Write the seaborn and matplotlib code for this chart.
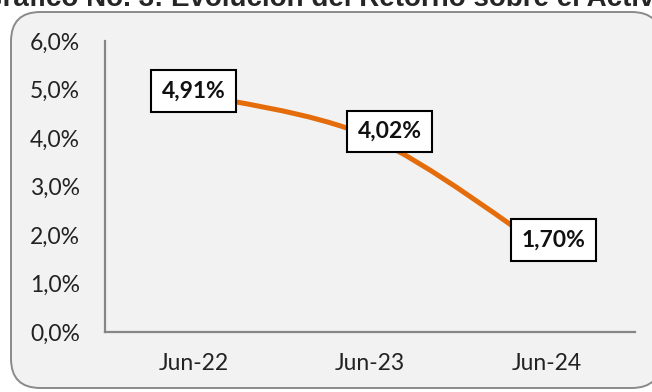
import matplotlib
matplotlib.use("Agg")
import matplotlib.pyplot as plt
import seaborn as sns
import pandas as pd
from matplotlib.patches import FancyBboxPatch, PathPatch
from matplotlib.path import Path

# Return on assets by period
periods = ["Jun-22", "Jun-23", "Jun-24"]
roa = [4.91, 4.02, 1.70]
label_texts = ["4,91%", "4,02%", "1,70%"]
y_ticks = [0, 1, 2, 3, 4, 5, 6]
y_tick_labels = ["0,0%", "1,0%", "2,0%", "3,0%", "4,0%", "5,0%", "6,0%"]
title = "Gráfico No. 3: Evolución del Retorno sobre el Activo"

sns.set_theme(style="white")
plt.rcParams["font.family"] = ["Lato", "DejaVu Sans"]

ORANGE = "#E46C0A"
AXIS_GREY = "#868686"

fig = plt.figure(figsize=(6.52, 3.92), dpi=100)
fig.patch.set_facecolor("white")

# Rounded chart-area frame
frame = FancyBboxPatch((11 / 652, 4 / 392), 650 / 652, 376 / 392,
                       boxstyle="round,pad=0,rounding_size=0.045",
                       transform=fig.transFigure, facecolor="#f2f2f2",
                       edgecolor="#8a8a8a", linewidth=1.4, zorder=-5,
                       mutation_aspect=652 / 392)
fig.patches.append(frame)

fig.text(0.5, 1 - 6.5 / 392, title, ha="center", va="baseline",
         fontsize=20, fontweight="bold", family=["Liberation Sans"])

ax = fig.add_axes([105 / 652, 60 / 392, 530 / 652, 291 / 392])
ax.set_facecolor("none")
ax.set_zorder(2)

df = pd.DataFrame({"periodo": periods, "roa": roa})
sns.lineplot(data=df, x="periodo", y="roa", ax=ax, color=ORANGE,
             linewidth=3.6, sort=False)
base_line = ax.lines[0]
base_line.set_visible(False)

# Smoothed curve through the points (cubic Bezier, Catmull-Rom style)
xs = list(range(len(roa)))
pts = list(zip(xs, roa))
verts = [pts[0]]
codes = [Path.MOVETO]
for i in range(len(pts) - 1):
    p0 = pts[i - 1] if i > 0 else pts[i]
    p1 = pts[i]
    p2 = pts[i + 1]
    p3 = pts[i + 2] if i + 2 < len(pts) else pts[i + 1]
    c1 = (p1[0] + (p2[0] - p0[0]) / 6, p1[1] + (p2[1] - p0[1]) / 6)
    c2 = (p2[0] - (p3[0] - p1[0]) / 6, p2[1] - (p3[1] - p1[1]) / 6)
    verts += [c1, c2, p2]
    codes += [Path.CURVE4] * 3
ax.add_patch(PathPatch(Path(verts, codes), facecolor="none",
                       edgecolor=ORANGE, linewidth=3.6, capstyle="round",
                       joinstyle="round", zorder=2))

# Value labels in boxes
offsets = [(0, 2), (14, 4), (5, 7)]
for x, y, t, off in zip(xs, roa, label_texts, offsets):
    ax.annotate(t, (x, y), xytext=off, textcoords="offset points",
                ha="center", va="center", fontsize=16.5, fontweight="bold",
                color="#111111", zorder=5,
                bbox=dict(boxstyle="square,pad=0.45", facecolor="white",
                          edgecolor="black", linewidth=1.5))

ax.set_xlim(-0.5, 2.5)
ax.set_ylim(0, 6)
ax.set_yticks(y_ticks)
ax.set_yticklabels(y_tick_labels)
ax.set_xlabel("")
ax.set_ylabel("")
for side in ["top", "right"]:
    ax.spines[side].set_visible(False)
for side in ["left", "bottom"]:
    ax.spines[side].set_color(AXIS_GREY)
    ax.spines[side].set_linewidth(1.6)
ax.tick_params(axis="both", length=0, labelsize=16.5, colors="#222222")
ax.tick_params(axis="y", pad=18)
ax.tick_params(axis="x", pad=15)

fig.savefig("out.png", dpi=100, facecolor="white")
